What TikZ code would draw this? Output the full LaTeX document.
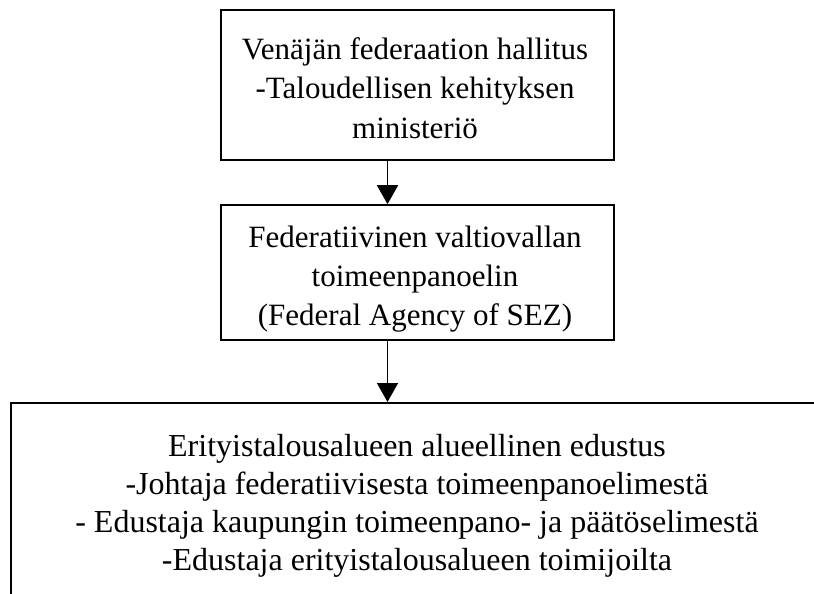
\documentclass[tikz,border=0pt]{standalone}
\usepackage{fontspec}
\setmainfont{Liberation Serif}
\usetikzlibrary{arrows.meta}
\begin{document}
\begin{tikzpicture}[x=1pt,y=-1pt,
  box/.style={draw, line width=1.6pt, inner sep=0pt},
  txt/.style={align=center, font=\fontsize{31}{39.3}\selectfont, inner sep=0pt},
  txtbig/.style={align=center, font=\fontsize{32}{37.8}\selectfont, inner sep=0pt},
  arr/.style={line width=1.6pt, -{Triangle[length=19pt,width=21pt]}}]
\useasboundingbox (0,0) rectangle (814,594);
\fill[white] (0,0) rectangle (814,594);
\node[box, minimum width=393pt, minimum height=150pt] (a) at (417.5,85) {};
\node[txt] (atext) at (415,88) {Venäjän federaation hallitus\\-Taloudellisen kehityksen\\ministeriö};
\node[box, minimum width=393pt, minimum height=135pt] (b) at (417.5,272.5) {};
\node[txt] (btext) at (415,279) {Federatiivinen valtiovallan\\toimeenpanoelin\\(Federal Agency of SEZ)};
\begin{scope}
\clip (0,0) rectangle (814,594);
\node[box, anchor=north west, minimum width=830pt, minimum height=220pt] (c) at (10,402) {};
\end{scope}
\node[txtbig] (ctext) at (417,506) {Erityistalousalueen alueellinen edustus\\-Johtaja federatiivisesta toimeenpanoelimestä\\- Edustaja kaupungin toimeenpano- ja päätöselimestä\\-Edustaja erityistalousalueen toimijoilta};
\coordinate (ax) at (387.5,0);
\draw[arr] (a.south -| ax) -- (b.north -| ax);
\draw[arr] (b.south -| ax) -- (c.north -| ax);
\end{tikzpicture}
\end{document}
